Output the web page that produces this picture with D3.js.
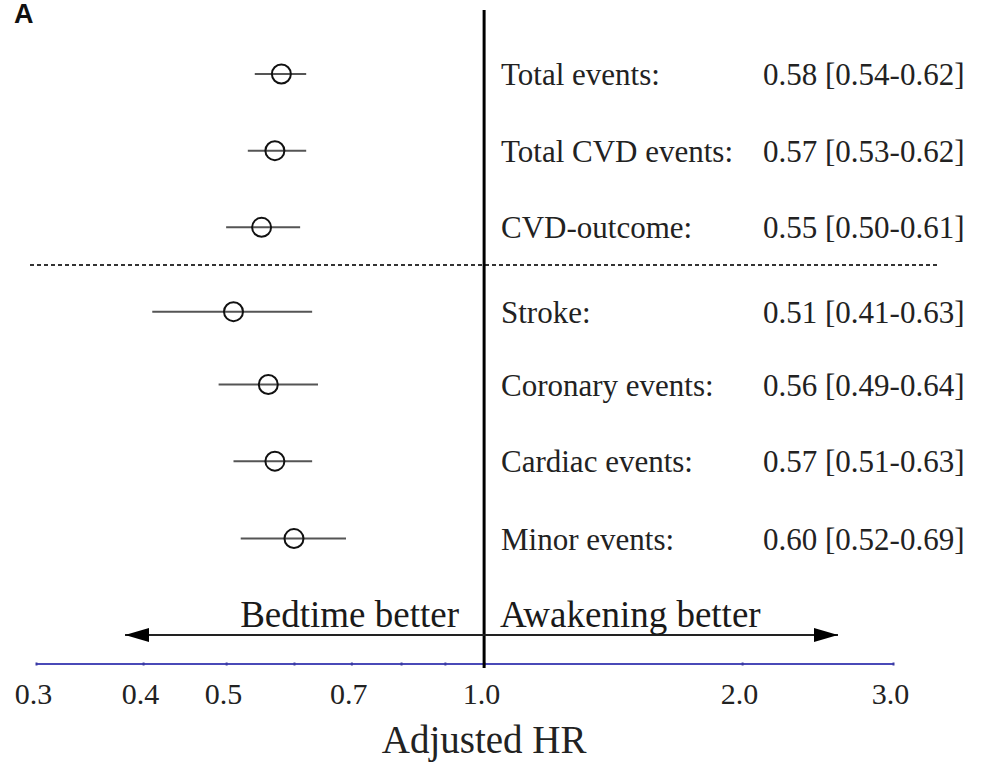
<!DOCTYPE html>
<html>
<head>
<meta charset="utf-8">
<script src="https://cdn.jsdelivr.net/npm/d3@7/dist/d3.min.js"></script>
<style>
html,body{margin:0;padding:0;background:#fff;}
svg{display:block;}
</style>
</head>
<body>
<svg id="chart" width="982" height="764"></svg>
<script>
const labels = ["Total events:", "Total CVD events:", "CVD-outcome:", "Stroke:", "Coronary events:", "Cardiac events:", "Minor events:"];
const hr    = [0.58, 0.57, 0.55, 0.51, 0.56, 0.57, 0.60];
const lower = [0.54, 0.53, 0.50, 0.41, 0.49, 0.51, 0.52];
const upper = [0.62, 0.62, 0.61, 0.63, 0.64, 0.63, 0.69];
const rowPos = [0, 1, 2, 3.1, 4.05, 5.05, 6.06];
const tickValues = [0.3, 0.4, 0.5, 0.6, 0.7, 0.8, 0.9, 1.0, 2.0, 3.0];
const tickLabels = ["0.3", "0.4", "0.5", "", "0.7", "", "", "1.0", "2.0", "3.0"];

const svg = d3.select("#chart");
const serif = "'Liberation Serif','Times New Roman',serif";

const x = d3.scaleLog().domain([0.3, 3]).range([36, 893]);
const y = d3.scaleLinear().domain([0, 6]).range([74, 534]);

// panel letter
svg.append("text").attr("x", 14).attr("y", 23)
  .attr("font-family", "'Liberation Sans',Arial,sans-serif")
  .attr("font-weight", "bold").attr("font-size", 27).attr("fill", "#111").text("A");

// dashed separator
svg.append("line").attr("x1", 30).attr("x2", 938)
  .attr("y1", 265).attr("y2", 265)
  .attr("stroke", "#333").attr("stroke-width", 2).attr("stroke-dasharray", "4,3");

// axis
const axis = d3.axisBottom(x).tickValues(tickValues)
  .tickFormat((d, i) => tickLabels[i]).tickSize(3).tickSizeOuter(0).tickPadding(16);
const gAx = svg.append("g").attr("transform", "translate(0,664)").call(axis);
gAx.select(".domain").attr("stroke", "#4a4ab8").attr("stroke-width", 2).attr("d", `M${x(0.3)},0H${x(3)}`);
gAx.selectAll(".tick line").attr("stroke", "#3a3aa0").attr("stroke-width", 2).attr("y1", -1.5).attr("y2", 1.5);
gAx.selectAll(".tick text").attr("font-family", serif).attr("font-size", 30).attr("fill", "#222")
  .attr("dx", -3);

svg.append("text").attr("x", x(1)).attr("y", 753).attr("text-anchor", "middle")
  .attr("font-family", serif).attr("font-size", 39).attr("fill", "#222").text("Adjusted HR");

// vertical line at 1
svg.append("line").attr("x1", x(1)).attr("x2", x(1)).attr("y1", 10).attr("y2", 668)
  .attr("stroke", "#000").attr("stroke-width", 3);

// arrows
const defs = svg.append("defs");
defs.append("marker").attr("id", "ah").attr("viewBox", "0 0 24 14")
  .attr("refX", 24).attr("refY", 7).attr("markerWidth", 24).attr("markerHeight", 14)
  .attr("markerUnits", "userSpaceOnUse").attr("orient", "auto")
  .append("path").attr("d", "M0,0L24,7L0,14Z").attr("fill", "#000");
const ay = 635;
svg.append("line").attr("x1", x(1)).attr("x2", 125).attr("y1", ay).attr("y2", ay)
  .attr("stroke", "#222").attr("stroke-width", 2).attr("marker-end", "url(#ah)");
svg.append("line").attr("x1", x(1)).attr("x2", 838).attr("y1", ay).attr("y2", ay)
  .attr("stroke", "#222").attr("stroke-width", 2).attr("marker-end", "url(#ah)");
svg.append("text").attr("x", 459).attr("y", 627).attr("text-anchor", "end")
  .attr("font-family", serif).attr("font-size", 37).attr("fill", "#1a1a1a").text("Bedtime better");
svg.append("text").attr("x", 500).attr("y", 627)
  .attr("font-family", serif).attr("font-size", 37).attr("fill", "#1a1a1a").text("Awakening better");

// rows
const rows = svg.append("g").selectAll("g").data(labels).join("g")
  .attr("transform", (d, i) => `translate(0,${y(rowPos[i])})`);
rows.append("line").attr("x1", (d, i) => x(lower[i])).attr("x2", (d, i) => x(upper[i]))
  .attr("stroke", "#555").attr("stroke-width", 2);
rows.append("circle").attr("cx", (d, i) => x(hr[i])).attr("r", 9.5)
  .attr("fill", "none").attr("stroke", "#111").attr("stroke-width", 2);
rows.append("text").attr("x", 501).attr("y", 11)
  .attr("font-family", serif).attr("font-size", 31).attr("fill", "#222").text(d => d);
rows.append("text").attr("x", 763).attr("y", 11)
  .attr("font-family", serif).attr("font-size", 31).attr("fill", "#222")
  .text((d, i) => `${hr[i].toFixed(2)} [${lower[i].toFixed(2)}-${upper[i].toFixed(2)}]`);
</script>
</body>
</html>
